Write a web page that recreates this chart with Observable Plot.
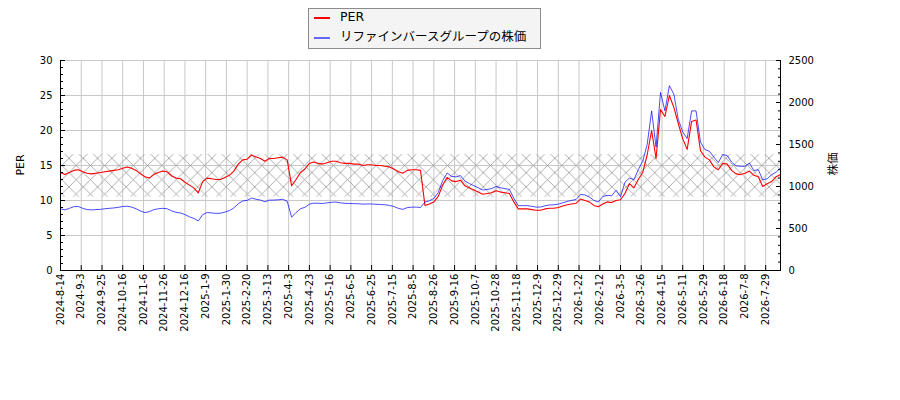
<!DOCTYPE html>
<html>
<head>
<meta charset="utf-8">
<script src="https://cdn.jsdelivr.net/npm/d3@7"></script>
<script src="https://cdn.jsdelivr.net/npm/@observablehq/plot@0.6"></script>
<style>
  body { margin: 0; background: #fff; font-family: "DejaVu Sans", "Noto Sans CJK JP", sans-serif; }
  #wrap { position: relative; width: 900px; height: 400px; }
  #legend { position: absolute; left: 308px; top: 8px; width: 231px; height: 39px; border: 1px solid #8c8c8c; background: #f4f4f4; font-size: 12.5px; color: #000; }
  .sw { position: absolute; left: 5px; width: 16px; height: 2px; }
  .lt { position: absolute; left: 31px; line-height: 16px; white-space: nowrap; }
</style>
</head>
<body>
<div id="wrap">
  <div id="chart"></div>
  <div id="legend">
    <div class="sw" style="top:8px;background:#ff0000"></div>
    <div class="lt" style="top:0px">PER</div>
    <div class="sw" style="top:28px;background:#6464ff"></div>
    <div class="lt" style="top:20px">リファインバースグループの株価</div>
  </div>
</div>
<script>
// trading-day index step between stored samples
const sampleStep = 3;

// x tick labels (every 14 trading days)
const tickLabels = [
  "2024-8-14","2024-9-3","2024-9-25","2024-10-16","2024-11-6","2024-11-26","2024-12-16",
  "2025-1-9","2025-1-30","2025-2-20","2025-3-13","2025-4-3","2025-4-23","2025-5-16",
  "2025-6-5","2025-6-25","2025-7-15","2025-8-5","2025-8-26","2025-9-16","2025-10-7",
  "2025-10-28","2025-11-18","2025-12-9","2025-12-29","2026-1-22","2026-2-12","2026-3-5",
  "2026-3-26","2026-4-15","2026-5-11","2026-5-29","2026-6-18","2026-7-8","2026-7-29"
];
const tickEvery = 14;

// PER series (left axis)
const perValues = [
  14.0,13.7,14.0,14.3,14.4,14.1,13.9,13.8,13.9,14.0,
  14.1,14.2,14.3,14.4,14.6,14.8,14.6,14.3,13.8,13.4,
  13.2,13.7,14.0,14.2,14.1,13.5,13.2,13.1,12.6,12.2,
  11.8,11.1,12.7,13.2,13.1,13.0,13.0,13.3,13.6,14.2,
  15.2,15.8,15.9,16.5,16.2,16.0,15.6,16.0,16.0,16.1,
  16.2,15.8,12.1,13.0,14.0,14.5,15.3,15.5,15.3,15.2,
  15.4,15.6,15.6,15.4,15.3,15.3,15.2,15.2,15.0,15.1,
  15.1,15.0,15.0,14.9,14.8,14.5,14.1,13.9,14.3,14.4,
  14.4,14.3,9.3,9.5,9.8,10.6,12.2,13.3,12.8,12.7,
  12.9,12.1,11.8,11.5,11.2,10.9,11.0,11.1,11.4,11.2,
  11.1,11.0,9.8,8.8,8.8,8.8,8.7,8.6,8.6,8.8,
  8.9,8.9,9.0,9.2,9.4,9.5,9.6,10.2,10.0,9.8,
  9.3,9.1,9.5,9.8,9.7,10.0,10.1,11.0,12.4,11.8,
  13.0,14.0,16.5,20.0,16.0,23.0,22.0,25.0,23.3,21.0,
  18.8,17.3,21.3,21.5,17.1,16.2,15.8,14.8,14.4,15.3,
  15.2,14.3,13.8,13.7,13.9,14.2,13.6,13.4,12.0,12.4,
  12.7,13.4,13.7
];

// Stock price series (right axis)
const priceValues = [
  734,722,740,760,762,740,725,722,725,728,
  735,740,745,752,762,765,755,735,708,690,
  700,725,735,740,735,710,692,685,665,640,
  620,590,665,690,685,680,682,695,712,745,
  795,828,835,862,848,838,818,838,838,842,
  848,825,635,690,735,752,790,802,800,798,
  805,812,815,805,800,798,796,795,790,792,
  792,788,786,782,775,762,740,728,748,754,
  755,750,815,830,858,930,1070,1160,1120,1115,
  1130,1065,1035,1010,985,958,965,975,1000,985,
  975,965,860,772,772,772,765,755,755,770,
  780,782,790,805,822,835,845,905,900,875,
  835,815,880,895,890,955,880,1050,1100,1080,
  1200,1300,1500,1900,1470,2120,1900,2200,2100,1800,
  1650,1570,1900,1900,1528,1440,1420,1350,1285,1380,
  1369,1290,1245,1240,1240,1280,1190,1200,1080,1091,
  1140,1170,1222
];

// shaded PER band
const perBand = [{lo: 10.47, hi: 16.57}];

const perTicks = [0, 5, 10, 15, 20, 25, 30];
const priceTicks = [0, 500, 1000, 1500, 2000, 2500];
const perMax = 30, priceMax = 2500;

const k = perMax / priceMax;
const data = perValues.map((v, j) => ({i: j * sampleStep, per: v, price: priceValues[j]}));
const xExtent = d3.extent(data, d => d.i);
const tickIdx = tickLabels.map((_, j) => j * tickEvery);

const font = '"DejaVu Sans", "Noto Sans CJK JP", sans-serif';

const chart = Plot.plot({
  width: 900, height: 400,
  marginLeft: 60, marginRight: 120, marginTop: 60, marginBottom: 130,
  x: {domain: xExtent},
  y: {domain: [0, perMax]},
  style: {fontFamily: font, fontSize: "10px", color: "#000", background: "transparent", overflow: "visible"},
  marks: [
    Plot.gridY(perTicks, {stroke: "#c8c8c8", strokeOpacity: 1, strokeWidth: 1}),
    Plot.gridX(tickIdx, {stroke: "#c8c8c8", strokeOpacity: 1, strokeWidth: 1}),
    Plot.rect(perBand, {y1: "lo", y2: "hi", fill: "url(#xhatch)"}),
    Plot.line(data, {x: "i", y: "per", stroke: "#ff0000", strokeWidth: 1.1}),
    Plot.line(data, {x: "i", y: d => d.price * k, stroke: "#0000ff", strokeOpacity: 0.7, strokeWidth: 1}),
    Plot.ruleX(xExtent, {stroke: "#000", strokeWidth: 1}),
    Plot.ruleY([0], {stroke: "#000", strokeWidth: 1}),
    // left axis
    Plot.axisY(perTicks, {anchor: "left", tickSize: 5, dx: 5, tickPadding: 8, label: null}),
    Plot.axisY(d3.range(0, perMax + 1, 1), {anchor: "left", tickSize: 3, dx: 3, tickFormat: () => "", label: null}),
    // right axis
    Plot.axisY(priceTicks.map(v => v * k), {anchor: "right", tickSize: 5, dx: -5, tickPadding: 8, tickFormat: d => String(Math.round(d / k)), label: null}),
    Plot.axisY(d3.range(0, priceMax + 1, 100).map(v => v * k), {anchor: "right", tickSize: 3, dx: -3, tickFormat: () => "", label: null}),
    // bottom axis
    Plot.axisX(tickIdx, {anchor: "bottom", tickSize: 5, dy: -5, tickPadding: 3, tickRotate: -90, tickFormat: d => tickLabels[Math.round(d / tickEvery)], label: null})
  ]
});

const svg = d3.select(chart);
const h = 100 / 7;
const defs = svg.insert("defs", ":first-child");
const pat = defs.append("pattern")
  .attr("id", "xhatch").attr("patternUnits", "userSpaceOnUse")
  .attr("x", 69).attr("y", 158.3).attr("width", h).attr("height", h);
pat.append("path")
  .attr("d", `M0,0L${h},${h}M0,${h}L${h},0M${-h/2},${h/2}L${h/2},${-h/2}`)
  .attr("stroke", "#9a9a9a").attr("stroke-width", 0.8).attr("fill", "none");

svg.append("text").text("PER")
  .attr("transform", "translate(24,165) rotate(-90)")
  .attr("text-anchor", "middle").attr("font-size", 11).attr("font-family", font).attr("fill", "#000");
svg.append("text").text("株価")
  .attr("transform", "translate(837,164) rotate(-90)")
  .attr("text-anchor", "middle").attr("font-size", 11.5).attr("font-family", font).attr("fill", "#000");

document.getElementById("chart").appendChild(chart);
</script>
</body>
</html>
